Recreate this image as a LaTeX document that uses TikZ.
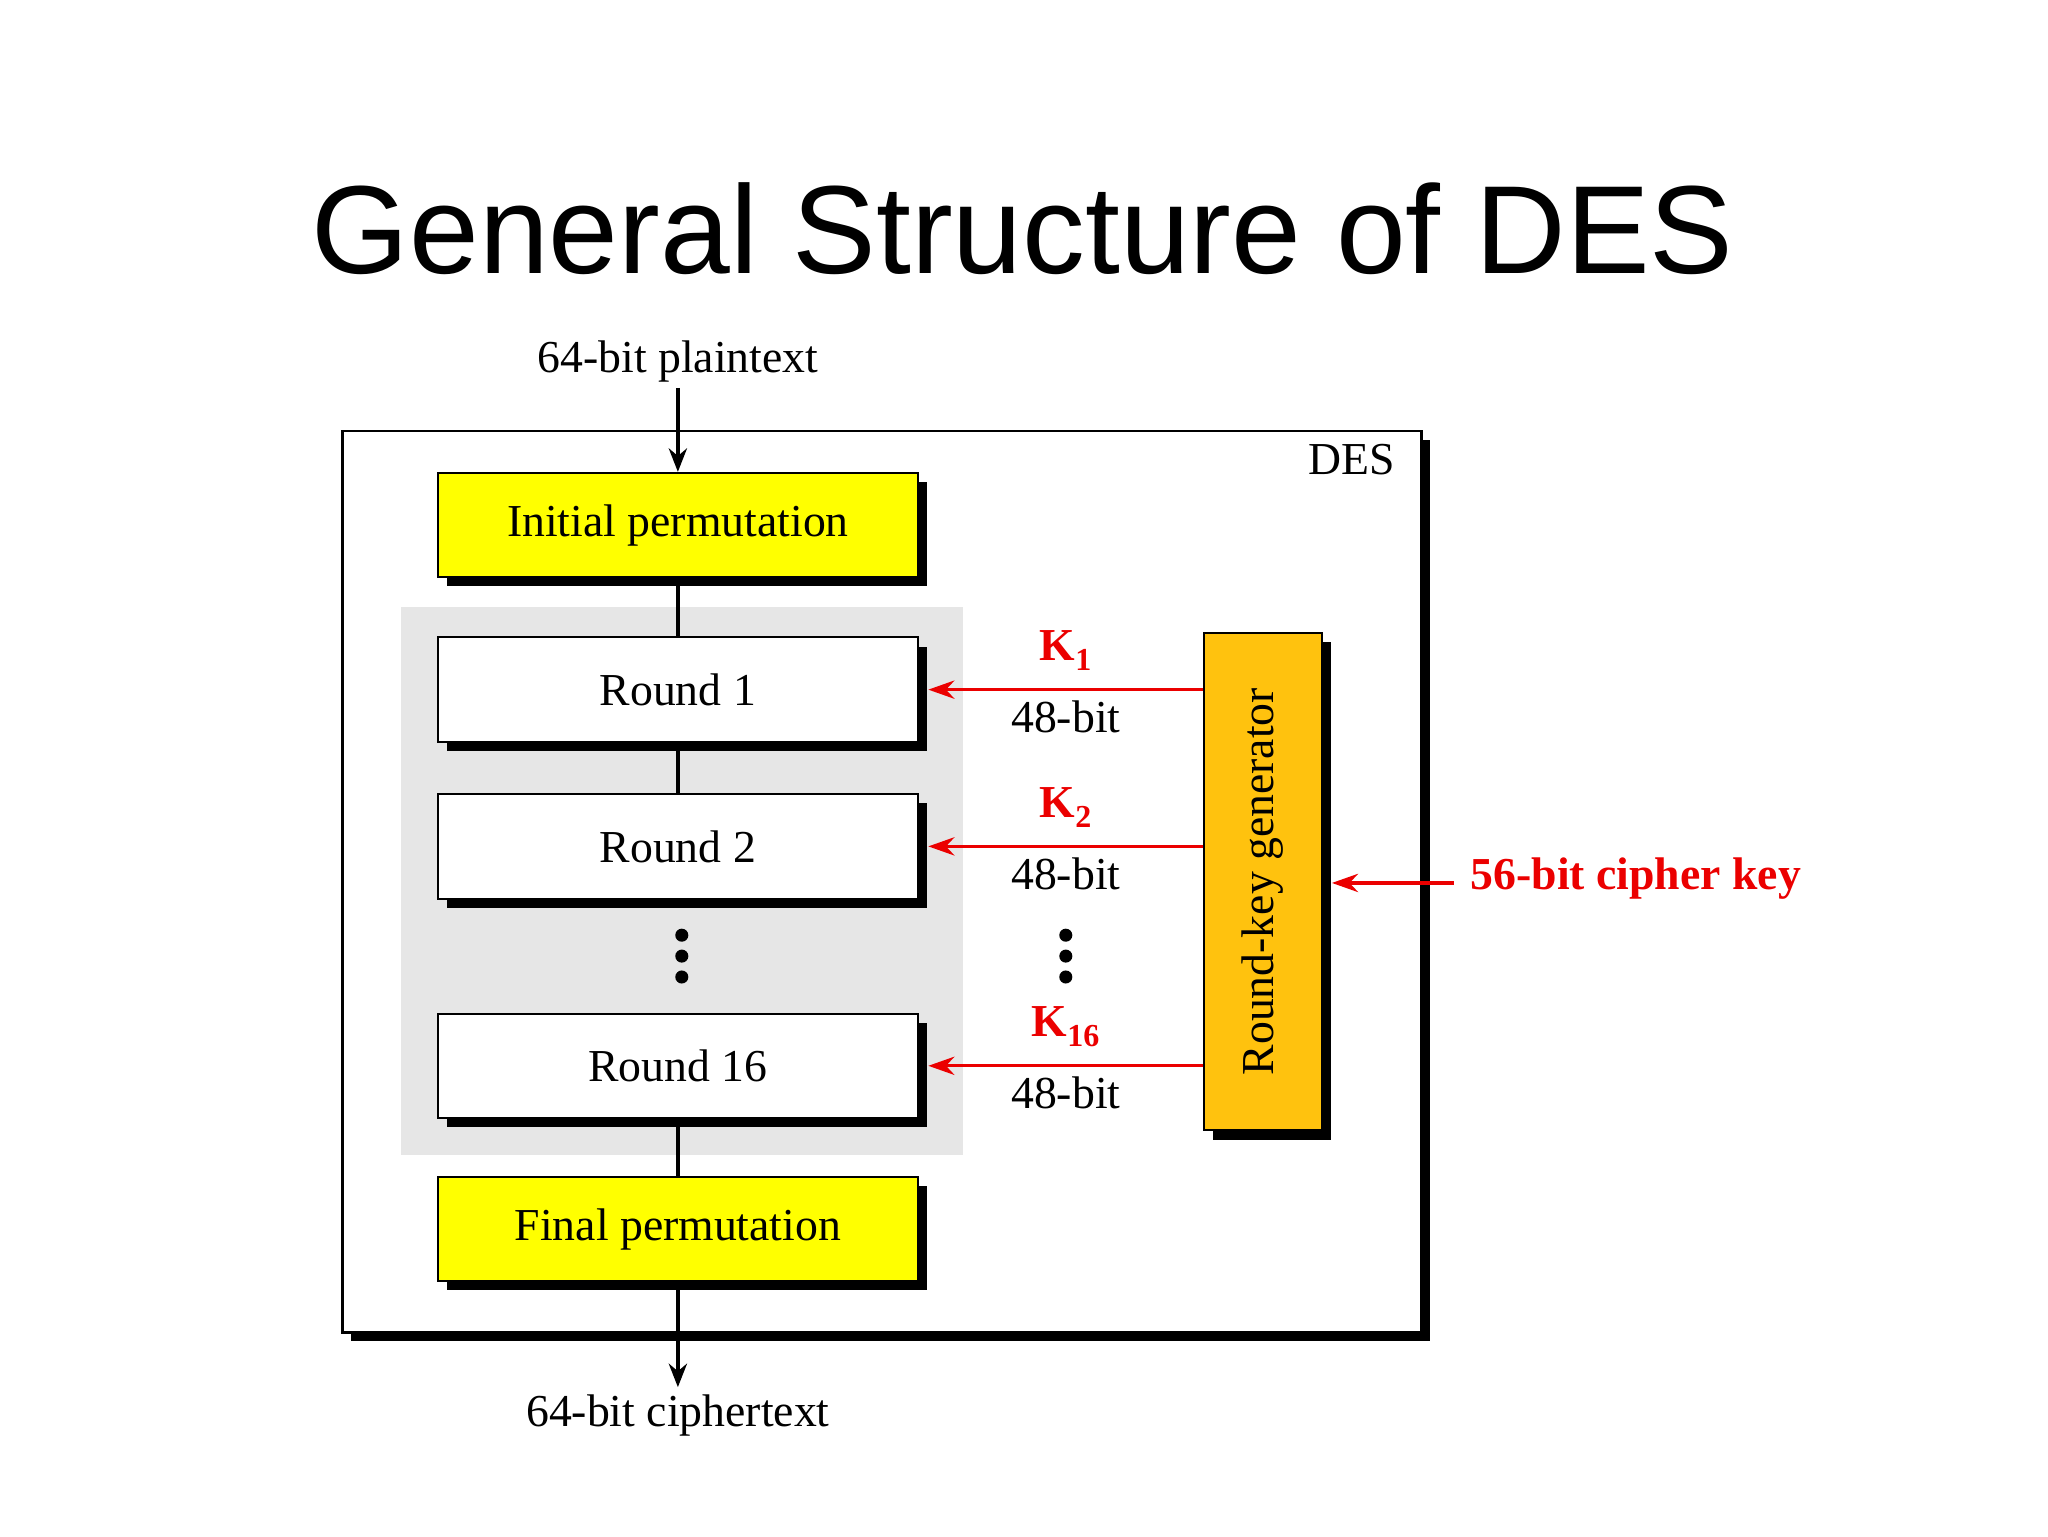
\documentclass[tikz,border=0pt]{standalone}
\usepackage{fontspec}
\setmainfont{Liberation Serif}
\newfontfamily\titlefont{Liberation Sans}
\usetikzlibrary{shadows,arrows.meta}
\definecolor{boxyellow}{RGB}{255,255,0}
\definecolor{keyorange}{RGB}{255,194,14}
\definecolor{keyred}{RGB}{235,0,0}
\definecolor{roundgray}{RGB}{230,230,230}
\tikzset{every picture/.style={line width=1.5pt}}
\tikzset{
  stage/.style={draw, line width=1.5pt, minimum width=368pt, minimum height=80pt,
    font=\fontsize{35}{40}\selectfont,
    drop shadow={shadow xshift=7pt, shadow yshift=-7pt, fill=black, opacity=1}},
  label/.style={font=\fontsize{35}{40}\selectfont},
  keylabel/.style={font=\fontsize{35}{40}\selectfont\bfseries, text=keyred},
  keyarrow/.style={draw=keyred, line width=2.5pt, -{Stealth[length=20pt,width=14pt]}},
  flow/.style={line width=2.5pt},
  dot/.style={fill=black},
}

\begin{document}
\begin{tikzpicture}[x=1pt,y=-1pt]
\useasboundingbox (0,0) rectangle (1568,1176);

% title
\node[font=\fontsize{96}{110}\selectfont\titlefont] (title) at (783,175) {General Structure of DES};

% outer frame and round area
\node[draw, line width=2.2pt, minimum width=826pt, minimum height=690pt,
  drop shadow={shadow xshift=7pt, shadow yshift=-7pt, fill=black, opacity=1}, fill=white] (des) at (675,675) {};
\node[label, anchor=north east] (deslabel) at (1072,336) {DES};
\fill[roundgray] (307,465) rectangle (737,884);

% stages
\node[stage, fill=boxyellow] (ip) at (519,402) {Initial permutation};
\node[stage, fill=white] (r1) at (519,528) {Round 1};
\node[stage, fill=white] (r2) at (519,648) {Round 2};
\node[stage, fill=white] (r16) at (519,816) {Round 16};
\node[stage, fill=boxyellow] (fp) at (519,941) {Final permutation};

% key generator
\node[draw, line width=1.5pt, fill=keyorange, minimum width=90pt, minimum height=381pt,
  drop shadow={shadow xshift=7pt, shadow yshift=-7pt, fill=black, opacity=1}] (rkg) at (967,675)
  {\rotatebox{90}{\fontsize{35}{40}\selectfont Round-key generator}};

% text at the ends
\node[label] (plain) at (519,277) {64-bit plaintext};
\node[label] (cipher) at (519,1084) {64-bit ciphertext};
\node[keylabel, anchor=west] (keytext) at (1122,673) {56-bit cipher key};
\coordinate (key) at (1113,676);

% data path
\draw[flow, -{Stealth[length=18pt,width=14pt]}] (plain) -- (ip);
\draw[flow] (ip) -- (r1);
\draw[flow] (r1) -- (r2);
\draw[flow] (r16) -- (fp);
\draw[flow, -{Stealth[length=18pt,width=14pt]}] (fp) -- (519,1062);

% round keys
\foreach \r/\k in {r1/1, r2/2, r16/16}{
  \draw[keyarrow, shorten >=7pt] (rkg.west |- \r) -- (\r.east);
  \node[keylabel] at ([yshift=30pt] 816,0 |- \r) {K$_{\mathbf{\k}}$};
  \node[label] at ([yshift=-21pt] 816,0 |- \r) {48-bit};
}
\foreach \x in {522,816}
  \foreach \y in {716,732,748}
    \fill[dot] (\x,\y) circle (5pt);
\draw[keyarrow, shorten >=7pt] (key) -- (rkg.east |- key);

\end{tikzpicture}
\end{document}
